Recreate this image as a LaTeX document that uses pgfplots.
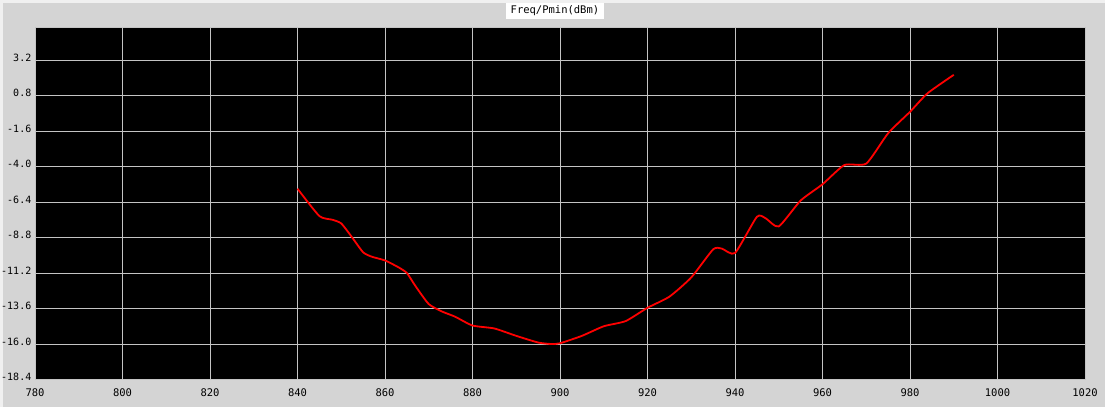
\documentclass[border=0pt]{standalone}
\usepackage{pgfplots}
\pgfplotsset{compat=1.18}
\usepackage{fontspec}
\newfontfamily\monofont{DejaVu Sans Mono}
\definecolor{bggray}{HTML}{D4D4D4}
\definecolor{bglight}{HTML}{F0F0F0}
\definecolor{gridgray}{HTML}{C4C4C4}
\begin{document}
\begin{tikzpicture}[x=1pt,y=1pt]
\path[use as bounding box] (0,0) rectangle (1105,407);
\fill[bggray] (0,0) rectangle (1105,407);
\fill[bglight] (0,403.5) rectangle (1105,407);
\fill[bglight] (0,0) rectangle (2.5,407);
\begin{axis}[
  at={(35pt,27.5pt)}, anchor=south west,
  scale only axis, width=1050pt, height=352pt,
  xmin=780, xmax=1020, ymin=-18.4, ymax=5.4,
  axis background/.style={fill=black},
  axis line style={draw=gridgray, line width=0.8pt},
  xtick={780,800,820,840,860,880,900,920,940,960,980,1000,1020},
  xticklabels={780,800,820,840,860,880,900,920,940,960,980,1000,1020},
  ytick={-18.4,-16.0,-13.6,-11.2,-8.8,-6.4,-4.0,-1.6,0.8,3.2},
  yticklabels={-18.4,-16.0,-13.6,-11.2,-8.8,-6.4,-4.0,-1.6,0.8,3.2},
  major tick length=0pt,
  grid=major,
  major grid style={draw=gridgray, line width=0.8pt},
  tick label style={font=\monofont\fontsize{10.5}{12}\selectfont, text=black, inner sep=0pt},
  xticklabel style={anchor=base, yshift=-16.5pt},
  yticklabel style={anchor=base east, xshift=-3.5pt, yshift=-1pt, font=\monofont\fontsize{10}{12}\selectfont},
  title={Freq/Pmin(dBm)},
  title style={at={(0.4952,1)}, anchor=south, yshift=2.5pt, fill=white,
    font=\monofont\fontsize{10.5}{12}\selectfont, inner xsep=5pt, inner ysep=2.5pt,
    text height=8.5pt, text depth=2.5pt},
  clip=true,
]
\addplot[color=red, line width=1.8pt, smooth, tension=0.35] coordinates {
(840,-5.5) (845,-7.35) (848,-7.6) (850,-7.85) (852.5,-8.8) (855,-9.8)
(857,-10.1) (860,-10.35) (863,-10.8) (865,-11.2) (867,-12.1) (870,-13.3)
(873,-13.8) (876,-14.15) (880,-14.75) (885,-14.95) (890,-15.45) (895,-15.9)
(898,-16.0) (900,-15.95) (905,-15.45) (910,-14.8) (915,-14.45) (920,-13.55)
(925,-12.8) (930,-11.5) (935,-9.6) (937,-9.55) (940,-9.85) (945,-7.4)
(947,-7.5) (950,-8.05) (955,-6.3) (960,-5.2) (965,-3.9) (970,-3.8)
(975,-1.75) (980,-0.3) (984,0.95) (990,2.2)
};
\end{axis}
\end{tikzpicture}
\end{document}
